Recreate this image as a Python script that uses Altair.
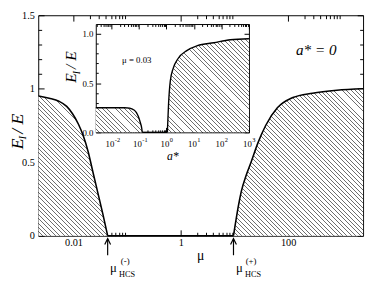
import math
import altair as alt
import pandas as pd

# ---------------- data ----------------
mu_left = [0.00222, 0.00351, 0.00534, 0.00746, 0.00959, 0.0123, 0.0152, 0.0188, 0.0231, 0.0285, 0.0351, 0.0433]
e_left = [0.95, 0.935, 0.915, 0.88, 0.83, 0.76, 0.68, 0.57, 0.43, 0.29, 0.15, 0.0]
mu_right = [9.6, 10.4, 11.8, 13.4, 16.5, 20.4, 27.3, 38.2, 63.1, 123, 285, 811, 2500]
e_right = [0.0, 0.08, 0.2, 0.3, 0.41, 0.5, 0.63, 0.75, 0.87, 0.94, 0.97, 0.99, 1.0]
mu_hcs = [0.0433, 9.6]
hcs_sign = ["(-)", "(+)"]

a_low = [0.0027, 0.01, 0.0306, 0.0459, 0.0635, 0.081, 0.0953, 0.112, 0.1265, 0.132]
e_low = [0.25, 0.25, 0.25, 0.245, 0.23, 0.20, 0.16, 0.10, 0.04, 0.0]
a_high = [1.08, 1.2, 1.38, 1.76, 2.65, 5.5, 13.4, 53, 211, 1000]
e_high = [0.0, 0.30, 0.52, 0.65, 0.75, 0.83, 0.88, 0.91, 0.94, 0.95]

mu_major = [0.01, 1, 100]
e_major = [0, 0.5, 1, 1.5]
a_major = [0.01, 0.1, 1, 10, 100, 1000]
ei_major = [0, 0.5, 1]
a_exp = ["-2", "-1", "0", "1", "2", "3"]

# ---------------- layout ----------------
W, H = 333, 226
FONT = "Liberation Serif, Times New Roman, serif"
MU_DOMAIN = [0.0022, 2500]
E_DOMAIN = [0, 1.5]
A_DOMAIN = [0.0027, 1000]
EI_DOMAIN = [0, 1.1]
INSET_X = [59, 216]
INSET_Y = [120, 9]

mu_minor = [m * d for d in (0.01, 1, 100) for m in range(2, 10)]
e_minor = [k / 10 for k in range(1, 15) if k not in (5, 10)]
a_minor = [m * d for d in (0.001, 0.01, 0.1, 1, 10, 100) for m in range(2, 10)
           if A_DOMAIN[0] <= m * d <= A_DOMAIN[1]]
ei_minor = [k / 10 for k in range(1, 11) if k not in (5, 10)]


def is_in(vals):
    return " || ".join(f"datum.value == {v}" for v in vals)


def log_px(v, dom, rng):
    l0, l1 = math.log10(dom[0]), math.log10(dom[1])
    return rng[0] + (math.log10(v) - l0) / (l1 - l0) * (rng[1] - rng[0])


def hatch(w, h, step=4.5, lw=1.0, color="#6e6e6e"):
    # diagonal "\" stripes with an exact pixel period over the area's bounding box
    n = math.ceil((w + h) / step)
    L = n * step
    a = L / (w * w + h * h)
    stops = []
    for i in range(n):
        o0, o1, o2 = i / n, (i + 1 - lw / step) / n, (i + 1) / n
        stops += [alt.GradientStop(color="white", offset=o0),
                  alt.GradientStop(color="white", offset=o1),
                  alt.GradientStop(color=color, offset=o1),
                  alt.GradientStop(color=color, offset=o2)]
    return alt.LinearGradient(gradient="linear", stops=stops,
                              x1=0, y1=1, x2=a * w, y2=1 - a * h)


def tick_axis(orient, offset, values, majors, big, small, domain=False):
    return alt.Axis(orient=orient, offset=offset, values=values, labels=False,
                    title=None, grid=False, domain=domain, domainColor="black",
                    domainWidth=1, ticks=True, tickColor="black", tickWidth=1,
                    tickSize={"condition": {"test": is_in(majors), "value": big},
                              "value": small})


def label_axis(orient, offset, values, size, pad, domain=True, **kw):
    return alt.Axis(orient=orient, offset=offset, values=values, ticks=False,
                    title=None, grid=False, domain=domain, domainColor="black",
                    domainWidth=1, labelFont=FONT, labelFontSize=size,
                    labelColor="black", labelPadding=pad, labelFlush=False,
                    labelOverlap=False, **kw)


xs = alt.Scale(type="log", domain=MU_DOMAIN, nice=False)
ys = alt.Scale(domain=E_DOMAIN, nice=False, zero=False)
xi = alt.Scale(type="log", domain=A_DOMAIN, nice=False, range=INSET_X)
yi = alt.Scale(domain=EI_DOMAIN, nice=False, zero=False, range=INSET_Y)

df_left = pd.DataFrame({"mu": mu_left, "E": e_left})
df_right = pd.DataFrame({"mu": mu_right, "E": e_right})
df_line = pd.concat([
    df_left.assign(seg="a"),
    pd.DataFrame({"mu": [mu_left[-1], mu_right[0]], "E": [0.0, 0.0], "seg": "b"}),
    df_right.assign(seg="c")], ignore_index=True)

df_lo = pd.DataFrame({"a": a_low, "E": e_low})
df_hi = pd.DataFrame({"a": a_high, "E": e_high})
df_iline = pd.concat([
    df_lo.assign(seg="a"),
    pd.DataFrame({"a": [a_low[-1], a_high[0]], "E": [0.0, 0.0], "seg": "b"}),
    df_hi.assign(seg="c")], ignore_index=True)

# hatch geometry (bounding boxes in pixels)
wl = log_px(mu_left[-1], MU_DOMAIN, [0, W]) - log_px(mu_left[0], MU_DOMAIN, [0, W])
hl = max(e_left) / E_DOMAIN[1] * H
wr = log_px(mu_right[-1], MU_DOMAIN, [0, W]) - log_px(mu_right[0], MU_DOMAIN, [0, W])
hr = max(e_right) / E_DOMAIN[1] * H
ih = INSET_Y[0] - INSET_Y[1]
wil = log_px(a_low[-1], A_DOMAIN, INSET_X) - log_px(a_low[0], A_DOMAIN, INSET_X)
hil = max(e_low) / EI_DOMAIN[1] * ih
wih = log_px(a_high[-1], A_DOMAIN, INSET_X) - log_px(a_high[0], A_DOMAIN, INSET_X)
hih = max(e_high) / EI_DOMAIN[1] * ih

# ---------------- main panel ----------------
main_left = alt.Chart(df_left).mark_area(fill=hatch(wl, hl), interpolate="monotone").encode(
    x=alt.X("mu:Q", scale=xs, axis=label_axis("bottom", 0, mu_major, 10.5, 2, format="~g")),
    y=alt.Y("E:Q", scale=ys, axis=label_axis("left", 0, e_major, 10.5, 4, format="~g")),
)
main_right = alt.Chart(df_right).mark_area(fill=hatch(wr, hr), interpolate="monotone").encode(
    x=alt.X("mu:Q", scale=xs, axis=tick_axis("top", -H, mu_major + mu_minor, mu_major, 6, 3.5)),
    y=alt.Y("E:Q", scale=ys, axis=tick_axis("right", -W, e_major + e_minor, e_major, 6, 3.5)),
)
main_line = alt.Chart(df_line).mark_line(color="black", strokeWidth=1.6, interpolate="monotone").encode(
    x=alt.X("mu:Q", scale=xs, axis=tick_axis("bottom", -H, mu_major + mu_minor, mu_major, 6, 3.5, True)),
    y=alt.Y("E:Q", scale=ys, axis=tick_axis("left", -W, e_major + e_minor, e_major, 6, 3.5, True)),
    detail="seg:N",
)

# ---------------- inset ----------------
exp_expr = "datum.value < 0.05 ? '{}' : datum.value < 0.5 ? '{}' : datum.value < 5 ? '{}' : datum.value < 50 ? '{}' : datum.value < 500 ? '{}' : '{}'".format(*a_exp)

inset_lo = alt.Chart(df_lo).mark_area(fill=hatch(wil, hil), interpolate="monotone").encode(
    x=alt.X("a:Q", scale=xi, axis=label_axis("bottom", -(H - INSET_Y[0]), a_major, 9, 8,
                                              labelExpr="'10'", labelOffset=-2)),
    y=alt.Y("E:Q", scale=yi, axis=label_axis("left", -INSET_X[0], ei_major, 9, 3, format=".1f")),
)
inset_hi = alt.Chart(df_hi).mark_area(fill=hatch(wih, hih), interpolate="monotone").encode(
    x=alt.X("a:Q", scale=xi, axis=tick_axis("top", -INSET_Y[0], a_major + a_minor, a_major, 5, 2.5)),
    y=alt.Y("E:Q", scale=yi, axis=tick_axis("right", -(W - INSET_X[0]), ei_major + ei_minor, ei_major, 5, 2.5)),
)
inset_line = alt.Chart(df_iline).mark_line(color="black", strokeWidth=1.4, interpolate="monotone").encode(
    x=alt.X("a:Q", scale=xi, axis=tick_axis("bottom", -(H - INSET_Y[1]), a_major + a_minor, a_major, 5, 2.5, True)),
    y=alt.Y("E:Q", scale=yi, axis=tick_axis("left", -INSET_X[1], ei_major + ei_minor, ei_major, 5, 2.5, True)),
    detail="seg:N",
)
inset_exp = alt.Chart(df_hi).mark_point(opacity=0).encode(
    x=alt.X("a:Q", scale=xi, axis=label_axis("bottom", -(H - INSET_Y[0]), a_major, 6.5, 4, domain=False,
                                              labelExpr=exp_expr, labelAlign="left", labelOffset=3)),
    y=alt.Y("E:Q", scale=yi, axis=None),
)

# ---------------- annotations ----------------
def text(t, x, y, size, style="normal", angle=0, align="center", baseline="middle", dx=0, dy=0):
    return alt.Chart(pd.DataFrame({"t": [t]})).mark_text(
        font=FONT, fontSize=size, fontStyle=style, color="black", angle=angle,
        align=align, baseline=baseline, dx=dx, dy=dy).encode(
        text="t:N", x=alt.value(x), y=alt.value(y))


def sub_title(x, y, big, small, sub):
    # rotated "E_I / E": local x runs up the page, local y to the right
    wE = 0.611 * big
    w1 = 0.45 * small
    wr_ = (0.25 + 0.278 + 0.25 + 0.611) * big
    s0 = -(wE + w1 + wr_) / 2
    return [
        text("E", x, y, big, "italic", 270, "left", "alphabetic", dx=s0),
        text(sub, x, y, small, "italic", 270, "left", "alphabetic", dx=s0 + wE - 1, dy=small * 0.35),
        text(" / E", x, y, big, "italic", 270, "left", "alphabetic", dx=s0 + wE + w1),
    ]


df_hcs = pd.DataFrame({"mu": mu_hcs, "sign": hcs_sign})
xh = alt.X("mu:Q", scale=xs, axis=None)
arrows = alt.Chart(df_hcs).mark_rule(color="black", strokeWidth=1.2).encode(
    x=xh, y=alt.value(H + 3), y2=alt.value(H + 20))
heads = alt.Chart(df_hcs).mark_point(shape="M-1,1L0,-1L1,1", filled=False, color="black",
                                     strokeWidth=1.2, size=36, opacity=1).encode(
    x=xh, y=alt.value(H + 6))
mu_lab = alt.Chart(df_hcs).mark_text(font=FONT, fontSize=13, dx=6, baseline="middle").encode(
    x=xh, y=alt.value(H + 33), text=alt.value("μ"))
sign_lab = alt.Chart(df_hcs).mark_text(font=FONT, fontSize=9, dx=18, baseline="middle").encode(
    x=xh, y=alt.value(H + 26), text="sign:N")
hcs_lab = alt.Chart(df_hcs).mark_text(font=FONT, fontSize=8.5, dx=20, baseline="middle").encode(
    x=xh, y=alt.value(H + 39), text=alt.value("HCS"))

texts = [
    text("μ", W / 2, H + 21, 14),
    text("a* = 0", 285, 36, 15.5, "italic"),
    text("μ = 0.03", 101, 46, 9),
    text("a*", 138, 144, 12, "italic"),
] + sub_title(-16, 117, 18, 11, "I") + sub_title(39, 51, 16, 10, "I")

chart = alt.layer(
    main_left, main_right, main_line,
    inset_lo, inset_hi, inset_line, inset_exp,
    arrows, heads, mu_lab, sign_lab, hcs_lab,
    *texts,
).resolve_scale(x="independent", y="independent").properties(
    width=W, height=H,
    autosize=alt.AutoSizeParams(type="none"),
    padding={"left": 31, "top": 4, "right": 3, "bottom": 44},
    background="white",
).configure_view(stroke=None)

chart.save("out.html", embed_options={"renderer": "svg", "actions": False})
